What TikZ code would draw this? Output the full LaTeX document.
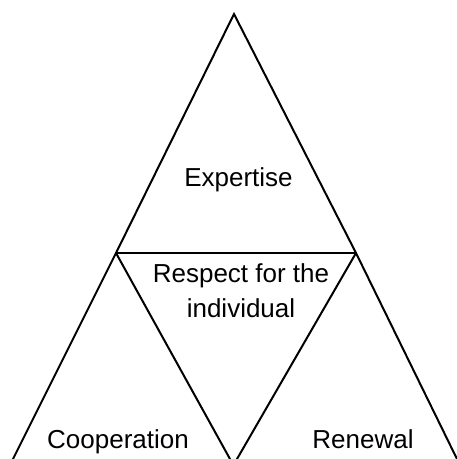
\documentclass[tikz,border=0pt]{standalone}
\usepackage{fontspec}
\setmainfont{Liberation Sans}
\begin{document}
\begin{tikzpicture}[x=1pt,y=-1pt,
  edge/.style={line width=2pt,line cap=round,line join=miter},
  lbl/.style={font=\fontsize{26}{35}\selectfont,align=center,inner sep=0pt}]
\useasboundingbox (0,0) rectangle (457,459);
\coordinate (apex) at (234,14);
\coordinate (L) at (116,253);
\coordinate (R) at (356,253);
\coordinate (BL) at (13,459);
\coordinate (BR) at (457,459);
\coordinate (VL) at (230,459);
\coordinate (VR) at (237,459);
\begin{scope}
\clip (0,0) rectangle (457,459);
\draw[edge] (BL) -- (L) -- (apex) -- (R) -- (BR);
\draw[edge] (L) -- (R);
\draw[edge] (L) -- (VL);
\draw[edge] (R) -- (VR);
\end{scope}
\node[lbl,anchor=base] (exp) at (238.5,186) {Expertise};
\node[lbl,anchor=north] (resp) at (241,263) {Respect for the\\individual};
\node[lbl,anchor=base] (coop) at (118,448) {Cooperation};
\node[lbl,anchor=base] (ren) at (363,448) {Renewal};
\end{tikzpicture}
\end{document}
